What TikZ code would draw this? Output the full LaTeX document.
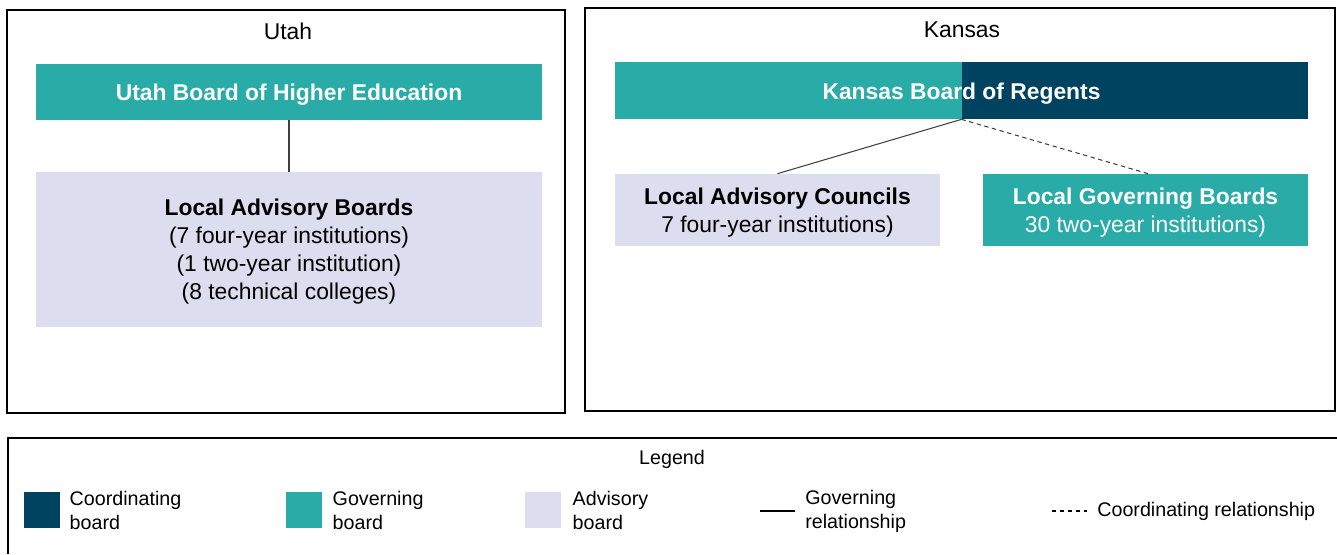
\documentclass[tikz,border=0pt]{standalone}
\usepackage{fontspec}
\setmainfont{Liberation Sans}
\definecolor{hegteal}{RGB}{41,171,167}
\definecolor{hecnavy}{RGB}{0,67,96}
\definecolor{healav}{RGB}{220,221,238}
\definecolor{helink}{RGB}{64,64,64}
\usetikzlibrary{positioning}

\begin{document}
\begin{tikzpicture}[
  hestate/.style={draw=black,line width=1.6pt},
  heboard/.style={minimum width=10.12cm,align=center,inner sep=0pt,
    font=\fontsize{13}{15.9}\selectfont},
  heboardk/.style={minimum width=6.5cm,minimum height=1.44cm,align=center,inner sep=0pt,
    text depth=-0.6pt,font=\fontsize{13}{15.9}\selectfont},
  heswatch/.style={minimum width=0.72cm,minimum height=0.72cm,inner sep=0pt},
  helegtext/.style={align=left,inner sep=0pt,font=\fontsize{11.2}{13.7}\selectfont},
  hearr/.style={helink,line width=0.6pt}
]
  \useasboundingbox (0,0) rectangle (26.74,-11.08);
  % State frames
  \draw[hestate] (0.14,-0.2) rectangle (11.3,-8.26);
  \draw[hestate] (11.7,-0.16) rectangle (26.7,-8.22);
  % Utah (left)
  \node[font=\fontsize{13}{15.9}\selectfont] (utlabel) at (5.76,-0.62) {Utah};
  \node[heboard,fill=hegteal,minimum height=1.12cm,text=white,text height=12.8pt] (ubhe)
    at (5.78,-1.84) {\textbf{Utah Board of Higher Education}};
  \node[heboard,fill=healav,minimum height=3.1cm,text depth=-0.6pt] (ulab) at (5.78,-4.99) {
    \textbf{Local Advisory Boards}\\
    (7 four-year institutions)\\
    (1 two-year institution)\\
    (8 technical colleges)};
  \draw[hearr] (ubhe.south) -- (ulab.north);
  % Kansas (right)
  \node[font=\fontsize{13}{15.9}\selectfont] (kslabel) at (19.24,-0.6) {Kansas};
  \node[heboard,minimum width=13.86cm,minimum height=1.14cm,fill=hegteal,text=white,
    text height=12.8pt,
    path picture={\fill[hecnavy] (path picture bounding box.north)
      rectangle (path picture bounding box.south east);}] (kbor) at (19.23,-1.81)
    {\textbf{Kansas Board of Regents}};
  \node[heboardk,fill=healav] (klac) at (15.55,-4.2) {
    \textbf{Local Advisory Councils}\\
    7 four-year institutions)};
  \node[heboardk,fill=hegteal,text=white] (klgb) at (22.91,-4.2) {
    \textbf{Local Governing Boards}\\
    30 two-year institutions)};
  \draw[hearr] (kbor.south) -- (klac.north);
  \draw[hearr,dash pattern=on 2.5pt off 2pt] (kbor.south) -- ([xshift=0.05cm]klgb.north);
  % Legend
  \draw[black,line width=0.6pt] (26.74,-8.76) -- (0.16,-8.76) -- (0.16,-11.08);
  \node[font=\fontsize{11.2}{13.7}\selectfont] (leglabel) at (13.44,-9.18) {Legend};
  \node[heswatch,fill=hecnavy] (swcoord) at (0.84,-10.2) {};
  \node[helegtext,right=0.18cm of swcoord] (txcoord) {Coordinating\\board};
  \node[heswatch,fill=hegteal] (swgov) at (6.08,-10.2) {};
  \node[helegtext,right=0.2cm of swgov] (txgov) {Governing\\board};
  \node[heswatch,fill=healav] (swadv) at (10.86,-10.2) {};
  \node[helegtext,right=0.22cm of swadv] (txadv) {Advisory\\board};
  \coordinate (lgsolA) at (15.2,-10.22);
  \coordinate (lgsolB) at (15.9,-10.22);
  \draw[hearr,black] (lgsolA) -- (lgsolB);
  \node[helegtext,right=0.2cm of lgsolB] (txsol) {Governing\\relationship};
  \coordinate (lgdashA) at (21.04,-10.22);
  \coordinate (lgdashB) at (21.74,-10.22);
  \draw[hearr,black,dash pattern=on 2.5pt off 2pt] (lgdashA) -- (lgdashB);
  \node[helegtext,right=0.2cm of lgdashB] (txdash) {Coordinating relationship};
\end{tikzpicture}
\end{document}
